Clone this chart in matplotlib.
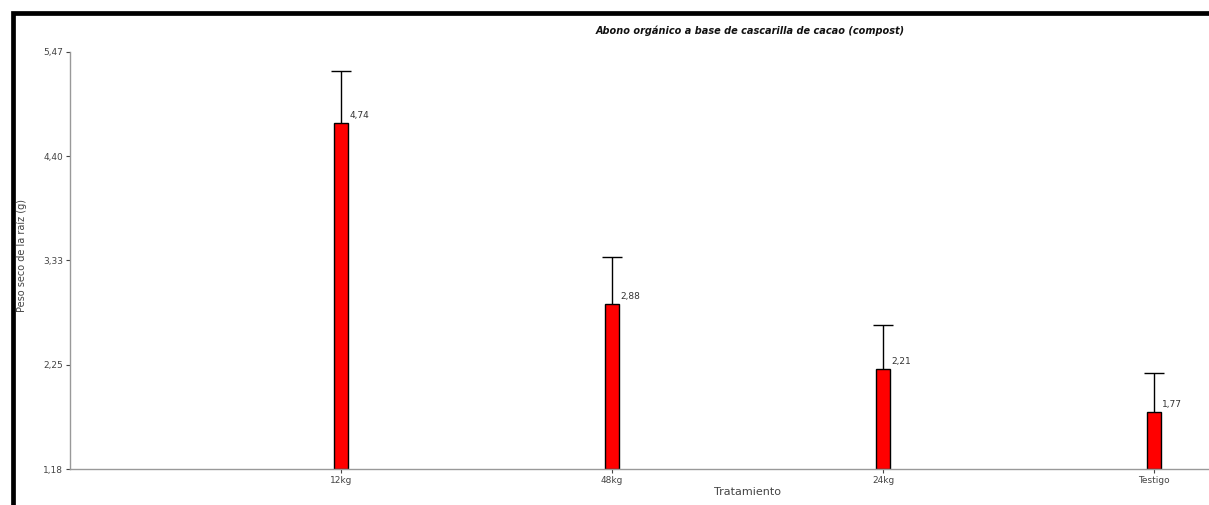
import matplotlib
matplotlib.use("Agg")
import matplotlib.pyplot as plt
from matplotlib.patches import Rectangle

# Data
categories = ["12kg", "48kg", "24kg", "Testigo"]
means = [4.74, 2.88, 2.21, 1.77]
errors = [0.53, 0.48, 0.45, 0.40]
y_ticks = [1.18, 2.2525, 3.325, 4.3975, 5.47]
y_tick_labels = ["1,18", "2,25", "3,33", "4,40", "5,47"]
value_labels = ["4,74", "2,88", "2,21", "1,77"]

W, H = 1209, 505
fig = plt.figure(figsize=(W / 100, H / 100), dpi=100)
fig.patch.set_facecolor("white")

# Window frame (top and left edges)
fig.add_artist(Rectangle((13 / W, -0.2), 1.5, (H - 13) / H + 0.2,
                         transform=fig.transFigure, fill=False,
                         edgecolor="black", linewidth=3.4))

ax = fig.add_axes([70 / W, (H - 469) / H, (W - 70) / W, (469 - 51.7) / H])
ymin, ymax = 1.18, 5.47
ax.set_ylim(ymin, ymax)
ax.set_xlim(0, (W - 70) / 271.0)

x = [i + 1 for i in range(len(categories))]
ax.bar(x, [m - ymin for m in means], bottom=ymin, width=0.054,
       color="#ff0000", edgecolor="black", linewidth=1.0, zorder=2)
_, caps, _ = ax.errorbar(x, means, yerr=[[0] * len(errors), errors], fmt="none",
                         ecolor="black", elinewidth=1.0, capsize=7,
                         capthick=1.0, zorder=3)
# keep only the upper caps
caps[0].set_visible(False)

for xi, m, lab in zip(x, means, value_labels):
    ax.text(xi + 0.03, m + 0.03, lab, fontsize=6.5, color="#333333",
            ha="left", va="bottom")

ax.set_yticks(y_ticks)
ax.set_yticklabels(y_tick_labels)
ax.set_xticks(x)
ax.set_xticklabels(categories)
ax.tick_params(axis="both", labelsize=6.5, colors="#444444", length=3,
               width=0.8, pad=2)

for side in ("top", "right"):
    ax.spines[side].set_visible(False)
for side in ("left", "bottom"):
    ax.spines[side].set_color("#999999")
    ax.spines[side].set_linewidth(1.0)

fig.text(750 / W, 1 - 31 / H, "Abono orgánico a base de cascarilla de cacao (compost)",
         ha="center", va="center", fontsize=7, fontweight="bold",
         fontstyle="italic", color="#111111")
fig.text(748 / W, 1 - 492 / H, "Tratamiento", ha="center", va="center",
         fontsize=8, color="#444444")
fig.text(22 / W, 1 - 255 / H, "Peso seco de la raíz (g)", ha="center",
         va="center", rotation=90, fontsize=7, color="#444444")

fig.savefig("out.png", dpi=100)
